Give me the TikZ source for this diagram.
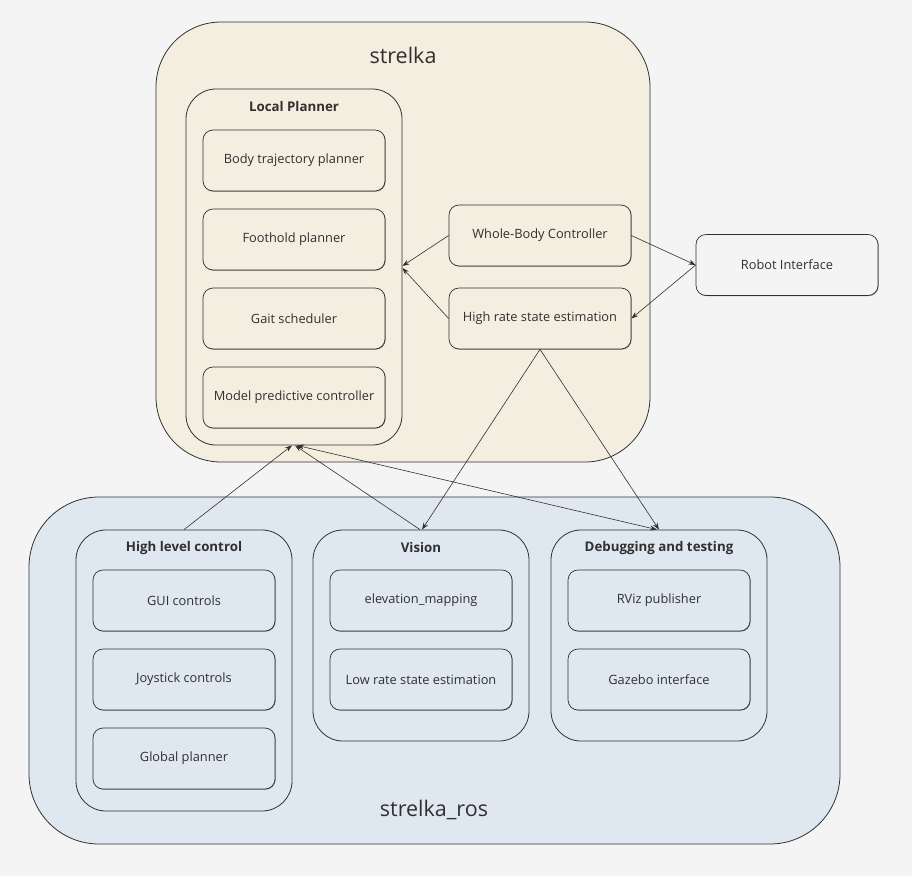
\documentclass[tikz,border=0pt]{standalone}
\usepackage{fontspec}
\setmainfont{Open Sans}
\usetikzlibrary{positioning}
\usetikzlibrary{arrows.meta}
\usetikzlibrary{shadows}
\definecolor{page-grey}{HTML}{F4F4F4}
\definecolor{core-beige}{HTML}{F3EEDF}
\definecolor{ros-blue}{HTML}{DFE8F1}
\definecolor{edge-dark}{HTML}{303030}
\colorlet{textcol}{edge-dark}
\begin{document}
\begin{tikzpicture}[x=1pt, y=-1pt,
  every node/.style={text=textcol},
  outerbox/.style={draw=edge-dark, line width=0.8pt, rounded corners=#1},
  groupbox/.style={draw=edge-dark, line width=0.8pt, rounded corners=30pt, minimum width=216pt},
  modbox/.style={draw=edge-dark, line width=0.7pt, rounded corners=10pt, minimum width=182pt, minimum height=61pt,
    font=\fontsize{12.8}{15}\selectfont, drop shadow={shadow xshift=0.6pt, shadow yshift=-0.6pt, fill=black, opacity=0.5}},
  grouptitle/.style={font=\fontsize{13.3}{16}\selectfont\bfseries},
  bigtitle/.style={font=\fontsize{21.5}{26}\selectfont},
  link/.style={draw=edge-dark, line width=0.6pt, -{Stealth[length=7pt, width=5pt]}},
  biglink/.style={draw=edge-dark, line width=0.6pt, {Stealth[length=7pt, width=5pt]}-{Stealth[length=7pt, width=5pt]}}]
% page
\fill[page-grey] (0,0) rectangle (912,876);
\useasboundingbox (0,0) rectangle (912,876);
% strelka core
\node[outerbox=65pt, fill=core-beige, minimum width=494pt, minimum height=440pt] (strelka) at (403,242) {};
\node[bigtitle] (strelkalbl) at (403,55) {strelka};
\node[groupbox, fill=core-beige, minimum height=356pt] (lp) at (294,267) {};
\node[grouptitle] (lptitle) at (294,107) {Local Planner};
\node[modbox, fill=core-beige] (body) at (294,160.5) {Body trajectory planner};
\node[modbox, fill=core-beige] (foot) at (294,239.5) {Foothold planner};
\node[modbox, fill=core-beige] (gait) at (294,318.5) {Gait scheduler};
\node[modbox, fill=core-beige] (mpc) at (294,397.5) {Model predictive controller};
\node[modbox, fill=core-beige] (wbc) at (540,235.5) {Whole-Body Controller};
\node[modbox, fill=core-beige] (hrse) at (540,318.5) {High rate state estimation};
% robot
\node[modbox, fill=page-grey] (robot) at (787,265) {Robot Interface};
% strelka_ros
\node[outerbox=70pt, fill=ros-blue, minimum width=811pt, minimum height=347pt] (ros) at (434.5,670.5) {};
\node[bigtitle] (roslbl) at (434,810) {strelka\_ros};
\node[groupbox, fill=ros-blue, minimum height=281pt] (hlc) at (184,670.5) {};
\node[grouptitle] (hlctitle) at (184,548) {High level control};
\node[modbox, fill=ros-blue] (gui) at (184,600.5) {GUI controls};
\node[modbox, fill=ros-blue] (joy) at (184,679.5) {Joystick controls};
\node[modbox, fill=ros-blue] (glob) at (184,758.5) {Global planner};
\node[groupbox, fill=ros-blue, minimum height=211pt] (vis) at (421,635.5) {};
\node[grouptitle] (vistitle) at (421,548) {Vision};
\node[modbox, fill=ros-blue] (elev) at (421,600.5) {elevation\_mapping};
\node[modbox, fill=ros-blue] (lrse) at (421,679.5) {Low rate state estimation};
\node[groupbox, fill=ros-blue, minimum height=211pt] (dbg) at (659,635.5) {};
\node[grouptitle] (dbgtitle) at (659,548) {Debugging and testing};
\node[modbox, fill=ros-blue] (rviz) at (659,600.5) {RViz publisher};
\node[modbox, fill=ros-blue] (gaz) at (659,679.5) {Gazebo interface};
% connectors
\draw[link] (wbc.west) -- ([yshift=1pt]lp.east);
\draw[link] (hrse.west) -- ([yshift=-1pt]lp.east);
\draw[link] (wbc.east) -- (robot.west);
\draw[link] (robot.west) -- (hrse.east);
\draw[link] (hrse.south) -- ([xshift=1pt]vis.north);
\draw[link] (hrse.south) -- (dbg.north);
\draw[link] (hlc.north) -- ([xshift=-2pt]lp.south);
\draw[link] ([xshift=-1pt]vis.north) -- ([xshift=1pt]lp.south);
\draw[biglink] ([xshift=3pt]lp.south) -- ([xshift=-2pt]dbg.north);
\end{tikzpicture}
\end{document}
